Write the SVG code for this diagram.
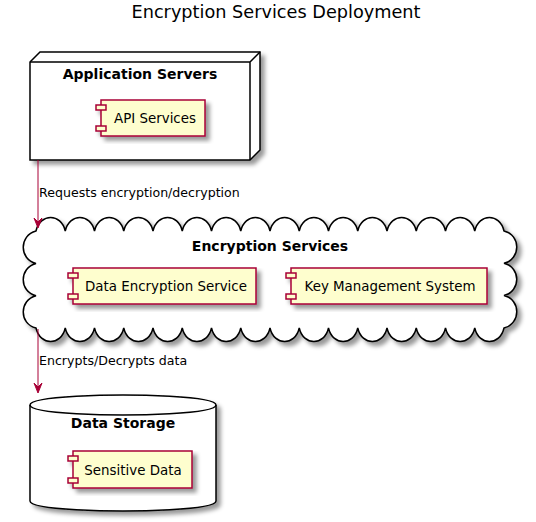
<svg xmlns="http://www.w3.org/2000/svg" width="536" height="522" viewBox="0 0 536 522">
<defs>
<filter id="sh" x="-10%" y="-10%" width="130%" height="130%">
<feGaussianBlur in="SourceAlpha" stdDeviation="2" result="b"/>
<feColorMatrix in="b" type="matrix" values="0 0 0 0 0  0 0 0 0 0  0 0 0 0 0  0 0 0 0.4 0" result="c"/>
<feOffset in="c" dx="4" dy="4" result="o"/>
<feMerge><feMergeNode in="o"/><feMergeNode in="SourceGraphic"/></feMerge>
</filter>
</defs>
<style>
.t{font-family:"DejaVu Sans",sans-serif;fill:#000}
.title{font-size:17.7px}
.h{font-size:14px;font-weight:bold}
.c{font-size:13.4px}
.l{font-size:12.6px}
.cont{fill:#FFFFFF;stroke:#000;stroke-width:1.5}
.comp{fill:#FEFECE;stroke:#A80036;stroke-width:1.5}
.edge{fill:none;stroke:#A80036;stroke-width:1}
.head{fill:#A80036;stroke:#A80036;stroke-width:1}
</style>
<text class="t title" x="276" y="18" text-anchor="middle">Encryption Services Deployment</text>

<g id="appservers">
<g filter="url(#sh)">
<polygon class="cont" points="30,62 40,52 260,52 260,150 250,160 30,160"/>
</g>
<path d="M30,62 L250,62 L260,52 M250,62 L250,160" fill="none" stroke="#000" stroke-width="1.5"/>
<text class="t h" x="140" y="79" text-anchor="middle">Application Servers</text>
</g>

<g id="api">
<g filter="url(#sh)">
<rect class="comp" x="101" y="100" width="104" height="36"/>
<rect class="comp" x="96" y="105" width="10" height="5"/>
<rect class="comp" x="96" y="126" width="10" height="5"/>
</g>
<text class="t c" x="155" y="123" text-anchor="middle">API Services</text>
</g>

<g id="encservices">
<path filter="url(#sh)" class="cont" d="M36,231 c4,-18 25.25,-18 29.25,0 c4,-18 25.25,-18 29.25,0 c4,-18 25.25,-18 29.25,0 c4,-18 25.25,-18 29.25,0 c4,-18 25.25,-18 29.25,0 c4,-18 25.25,-18 29.25,0 c4,-18 25.25,-18 29.25,0 c4,-18 25.25,-18 29.25,0 c4,-18 25.25,-18 29.25,0 c4,-18 25.25,-18 29.25,0 c4,-18 25.25,-18 29.25,0 c4,-18 25.25,-18 29.25,0 c4,-18 25.25,-18 29.25,0 c4,-18 25.25,-18 29.25,0 c4,-18 25.25,-18 29.25,0 c4,-18 25.25,-18 29.25,0 c17,4 17,28 0,32.3 c17,4 17,28 0,32.3 c17,4 17,28 0,32.4 c-4,18 -25.25,18 -29.25,0 c-4,18 -25.25,18 -29.25,0 c-4,18 -25.25,18 -29.25,0 c-4,18 -25.25,18 -29.25,0 c-4,18 -25.25,18 -29.25,0 c-4,18 -25.25,18 -29.25,0 c-4,18 -25.25,18 -29.25,0 c-4,18 -25.25,18 -29.25,0 c-4,18 -25.25,18 -29.25,0 c-4,18 -25.25,18 -29.25,0 c-4,18 -25.25,18 -29.25,0 c-4,18 -25.25,18 -29.25,0 c-4,18 -25.25,18 -29.25,0 c-4,18 -25.25,18 -29.25,0 c-4,18 -25.25,18 -29.25,0 c-4,18 -25.25,18 -29.25,0 c-17,-4 -17,-28 0,-32.3 c-17,-4 -17,-28 0,-32.3 c-17,-4 -17,-28 0,-32.4 Z"/>
<text class="t h" x="270" y="251" text-anchor="middle">Encryption Services</text>
</g>

<g id="dataenc">
<g filter="url(#sh)">
<rect class="comp" x="73" y="268" width="183" height="36"/>
<rect class="comp" x="68" y="273" width="10" height="5"/>
<rect class="comp" x="68" y="294" width="10" height="5"/>
</g>
<text class="t c" x="166" y="291" text-anchor="middle">Data Encryption Service</text>
</g>

<g id="kms">
<g filter="url(#sh)">
<rect class="comp" x="291" y="268" width="196" height="36"/>
<rect class="comp" x="286" y="273" width="10" height="5"/>
<rect class="comp" x="286" y="294" width="10" height="5"/>
</g>
<text class="t c" x="390" y="291" text-anchor="middle">Key Management System</text>
</g>

<g id="datastorage">
<path filter="url(#sh)" class="cont" d="M30,405 C30,395 123,395 123,395 C123,395 216,395 216,405 L216,501 C216,511 123,511 123,511 C123,511 30,511 30,501 Z"/>
<path d="M30,405 C30,415 123,415 123,415 C123,415 216,415 216,405" fill="none" stroke="#000" stroke-width="1.5"/>
<text class="t h" x="123" y="428" text-anchor="middle">Data Storage</text>
</g>

<g id="sensitive">
<g filter="url(#sh)">
<rect class="comp" x="73" y="451" width="119" height="37"/>
<rect class="comp" x="68" y="456" width="10" height="5"/>
<rect class="comp" x="68" y="478" width="10" height="5"/>
</g>
<text class="t c" x="133" y="475" text-anchor="middle">Sensitive Data</text>
</g>

<g id="connectors">
<path class="edge" d="M38,160 L38,224"/>
<polygon class="head" points="38,228 34,218 38,222 42,218"/>
<text class="t l" x="39" y="197">Requests encryption/decryption</text>
<path class="edge" d="M38,329 L38,389"/>
<polygon class="head" points="38,393 34,383 38,387 42,383"/>
<text class="t l" x="39" y="365">Encrypts/Decrypts data</text>
</g>
</svg>
